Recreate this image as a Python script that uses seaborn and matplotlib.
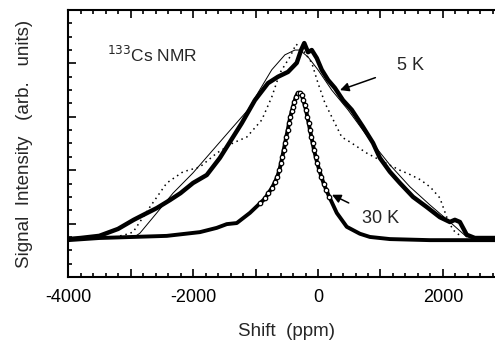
import numpy as np
import pandas as pd
import seaborn as sns
import matplotlib.pyplot as plt
from matplotlib.ticker import MultipleLocator, FuncFormatter

# 5 K measured spectrum (thick line)
x_5k = [-4000, -3800, -3500, -3200, -2950, -2800, -2580, -2370, -2200, -2000,
        -1780, -1570, -1360, -1220, -1010, -800, -640, -480, -340, -270,
        -220, -160, -100, -20, 60, 160, 270, 400, 540, 720,
        880, 990, 1150, 1310, 1520, 1740, 1950, 2110, 2190, 2270,
        2380, 2510, 3000]
y_5k = [0.71, 0.73, 0.77, 0.90, 1.07, 1.16, 1.29, 1.44, 1.57, 1.76,
        1.91, 2.23, 2.62, 2.88, 3.31, 3.63, 3.75, 3.84, 4.01, 4.25,
        4.38, 4.21, 4.25, 4.10, 3.88, 3.69, 3.54, 3.31, 3.13, 2.81,
        2.51, 2.23, 1.97, 1.76, 1.50, 1.31, 1.12, 1.03, 1.07, 1.03,
        0.79, 0.73, 0.73]

# fit (thin solid line)
x_fit = [-2950, -2850, -2580, -2320, -2000, -1680, -1360, -1120, -960, -740,
         -530, -370, -290, -160, 0, 220, 480, 830, 1150, 1470,
         1790, 2110, 2380]
y_fit = [0.74, 0.82, 1.20, 1.57, 1.95, 2.38, 2.81, 3.13, 3.45, 3.88,
         4.16, 4.25, 4.25, 4.12, 3.88, 3.50, 3.13, 2.57, 2.10, 1.69,
         1.35, 1.03, 0.75]

# second fit (dotted line)
x_dot = [-3250, -3090, -2960, -2690, -2420, -2160, -1890, -1620, -1360, -1140,
         -900, -740, -610, -450, -350, -240, -100, 0, 110, 270,
         380, 510, 780, 990, 1310, 1470, 1640, 1800, 1950, 2060,
         2160, 2300]
y_dot = [0.75, 0.79, 0.84, 1.31, 1.76, 1.97, 2.06, 2.32, 2.51, 2.62,
         2.94, 3.37, 3.82, 4.12, 4.36, 4.25, 4.01, 3.63, 3.26, 2.88,
         2.62, 2.53, 2.32, 2.19, 2.00, 1.92, 1.82, 1.68, 1.48, 1.12,
         0.88, 0.75]

# 30 K spectrum (open circles)
x_30k = [-4000, -3500, -2420, -1890, -1620, -1460, -1300, -1090, -928, -848,
         -795, -741, -688, -651, -619, -592, -571, -549, -528, -507,
         -485, -464, -443, -421, -400, -379, -352, -325, -288, -261,
         -235, -213, -192, -171, -149, -128, -107, -85, -64, -37,
         -11, 21, 53, 91, 133, 181, 300, 460, 670, 830,
         1150, 1790, 3000]
y_30k = [0.69, 0.73, 0.77, 0.84, 0.92, 0.99, 1.01, 1.20, 1.38, 1.47,
         1.57, 1.66, 1.78, 1.88, 2.00, 2.13, 2.25, 2.38, 2.50, 2.63,
         2.75, 2.88, 3.00, 3.10, 3.19, 3.28, 3.38, 3.44, 3.45, 3.41,
         3.31, 3.22, 3.13, 3.00, 2.88, 2.75, 2.63, 2.50, 2.38, 2.25,
         2.13, 2.00, 1.88, 1.75, 1.63, 1.50, 1.20, 0.94, 0.81, 0.75,
         0.71, 0.69, 0.69]

sns.set_style("ticks")
plt.rcParams['font.family'] = ['Liberation Sans', 'DejaVu Sans']
plt.rcParams['axes.unicode_minus'] = False

fig = plt.figure(figsize=(4.95, 3.41), dpi=100)
ax = fig.add_axes([0.1374, 0.1877, 0.8838, 0.783])

d5 = pd.DataFrame({"shift": x_5k, "I": y_5k})
dfit = pd.DataFrame({"shift": x_fit, "I": y_fit})
ddot = pd.DataFrame({"shift": x_dot, "I": y_dot})
d30 = pd.DataFrame({"shift": x_30k, "I": y_30k})

sns.lineplot(data=ddot, x="shift", y="I", ax=ax, color="black", lw=1.1,
             linestyle=(0, (1, 2.5)), estimator=None)
sns.lineplot(data=dfit, x="shift", y="I", ax=ax, color="black", lw=0.7,
             estimator=None)
sns.lineplot(data=d30, x="shift", y="I", ax=ax, color="black", lw=2.8,
             estimator=None)
peak = d30[d30["I"] > 1.35]
ax.plot(peak["shift"], peak["I"], ls="none", marker="o", ms=3.2,
        mfc="white", mec="black", mew=0.9)
sns.lineplot(data=d5, x="shift", y="I", ax=ax, color="black", lw=3.2,
             estimator=None)

ax.set_xlim(-4000, 3000)
ax.set_ylim(0, 5)
ax.xaxis.set_major_locator(MultipleLocator(1000))
ax.xaxis.set_minor_locator(MultipleLocator(200))
ax.xaxis.set_major_formatter(FuncFormatter(lambda v, p: "%d" % v if int(v) % 2000 == 0 else ""))
ax.yaxis.set_major_locator(MultipleLocator(1))
ax.yaxis.set_minor_locator(MultipleLocator(0.25))
ax.set_yticklabels([])
ax.tick_params(which="both", direction="in", top=True, width=1.2, colors="black")
ax.tick_params(which="major", length=6)
ax.tick_params(which="minor", length=3)
ax.tick_params(axis="x", labelsize=13, pad=9)
ax.tick_params(axis="y", left=True, labelleft=False)
for s in ["left", "top", "bottom", "right"]:
    ax.spines[s].set_linewidth(1.5)
    ax.spines[s].set_color("black")

ax.set_xlabel("Shift  (ppm)", fontsize=13.5, labelpad=12)
ax.set_ylabel("Signal  Intensity   (arb.   units)", fontsize=13.5, labelpad=22)

ax.text(-3376, 4.03, r"$^{133}$Cs NMR", fontsize=12.5, va="baseline", ha="left")
ax.annotate("5 K", xy=(352, 3.50), xytext=(1264, 3.88), fontsize=13,
            va="baseline", ha="left",
            arrowprops=dict(arrowstyle="-|>", color="black", lw=1.1,
                            mutation_scale=13, shrinkA=14, shrinkB=0))
ax.annotate("30 K", xy=(224, 1.54), xytext=(704, 1.01), fontsize=13,
            va="baseline", ha="left",
            arrowprops=dict(arrowstyle="-|>", color="black", lw=1.1,
                            mutation_scale=13, shrinkA=8, shrinkB=0))

fig.savefig("out.png", dpi=100)
